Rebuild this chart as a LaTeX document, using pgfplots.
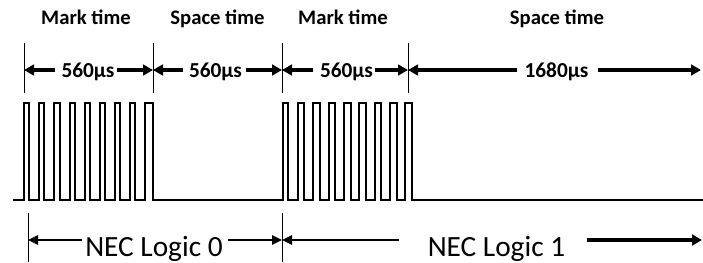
\documentclass[border=0pt]{standalone}
\usepackage{fontspec}
\setmainfont{Carlito}
\usepackage{pgfplots}
\pgfplotsset{compat=1.18}
\usetikzlibrary{arrows.meta}

\begin{document}
\begin{tikzpicture}
\begin{axis}[hide axis, scale only axis, width=527.25pt, height=196.5pt,
  xmin=0, xmax=703, ymin=0, ymax=262, y dir=reverse, clip=false]

% waveform
\addplot[black, line width=1.5pt, sharp plot, line join=miter, mark=none] coordinates {
 (13,200) (24,200) (24,103) (29,103) (29,200)
 (39,200) (39,103) (44,103) (44,200)
 (54,200) (54,103) (59.5,103) (59.5,200)
 (69.5,200) (69.5,103) (74.5,103) (74.5,200)
 (84.5,200) (84.5,103) (89.5,103) (89.5,200)
 (99.5,200) (99.5,103) (105,103) (105,200)
 (115,200) (115,103) (120,103) (120,200)
 (130,200) (130,103) (135,103) (135,200)
 (145,200) (145,103) (153,103) (153,200)
 (282.5,200) (282.5,103) (288,103) (288,200)
 (297.5,200) (297.5,103) (304,103) (304,200)
 (313,200) (313,103) (319.5,103) (319.5,200)
 (328.5,200) (328.5,103) (335,103) (335,200)
 (344,200) (344,103) (350.5,103) (350.5,200)
 (359,200) (359,103) (366,103) (366,200)
 (374.5,200) (374.5,103) (381,103) (381,200)
 (390,200) (390,103) (396.5,103) (396.5,200)
 (405,200) (405,103) (411.5,103) (411.5,200)
 (703,200)
};

% top vertical bars
\addplot[black, line width=0.75pt, mark=none] coordinates {(24,43) (24,93)};
\addplot[black, line width=0.75pt, mark=none] coordinates {(153,43) (153,93)};
\addplot[black, line width=0.75pt, mark=none] coordinates {(282,43) (282,93)};
\addplot[black, line width=0.75pt, mark=none] coordinates {(408,43) (408,93)};

% top arrows
\pgfplotsset{thickarrow/.style={black, line width=3pt, mark=none, -{Triangle[length=7.5pt,width=8pt]}}}
\addplot[thickarrow] coordinates {(55,70) (24,70)};
\addplot[thickarrow] coordinates {(117,70) (153,70)};
\addplot[thickarrow] coordinates {(183,70) (153,70)};
\addplot[thickarrow] coordinates {(246,70) (282,70)};
\addplot[thickarrow] coordinates {(313,70) (282,70)};
\addplot[thickarrow] coordinates {(375,70) (408,70)};
\addplot[thickarrow] coordinates {(517,70) (408,70)};
\addplot[thickarrow] coordinates {(598,70) (701,70)};

% bottom bars
\addplot[black, line width=0.75pt, mark=none] coordinates {(28,213) (28,262)};
\addplot[black, line width=0.75pt, mark=none] coordinates {(282,213) (282,262)};

% bottom arrows
\pgfplotsset{thinarrow/.style={black, line width=1.5pt, mark=none, -{Triangle[length=7.5pt,width=7pt]}}}
\addplot[thinarrow] coordinates {(82,240) (28,240)};
\addplot[thinarrow] coordinates {(228,240) (282,240)};
\addplot[thinarrow] coordinates {(399,240) (282,240)};
\addplot[thickarrow] coordinates {(587,240) (702,240)};

% labels
\begin{scope}[every node/.style={anchor=base, inner sep=0pt, font=\fontsize{15.5}{18}\selectfont\bfseries}]
\node at (axis cs:86,24) {Mark time};
\node at (axis cs:217.5,24) {Space time};
\node at (axis cs:343,24) {Mark time};
\node at (axis cs:557,24) {Space time};
\end{scope}
\begin{scope}[every node/.style={anchor=base, inner sep=0pt, font=\fontsize{16}{19}\selectfont\bfseries}]
\node at (axis cs:88,77) {560µs};
\node at (axis cs:215.5,77) {560µs};
\node at (axis cs:346.5,77) {560µs};
\node at (axis cs:556.5,77) {1680µs};
\end{scope}
\begin{scope}[every node/.style={anchor=base, inner sep=0pt, font=\fontsize{22}{26}\selectfont}]
\node at (axis cs:154,256) {NEC Logic 0};
\node at (axis cs:496.5,256) {NEC Logic 1};
\end{scope}

\coordinate (tl) at (axis cs:0,0);
\coordinate (br) at (axis cs:703,262);
\end{axis}
\pgfresetboundingbox
\path[use as bounding box] (tl) rectangle (br);
\end{tikzpicture}
\end{document}
